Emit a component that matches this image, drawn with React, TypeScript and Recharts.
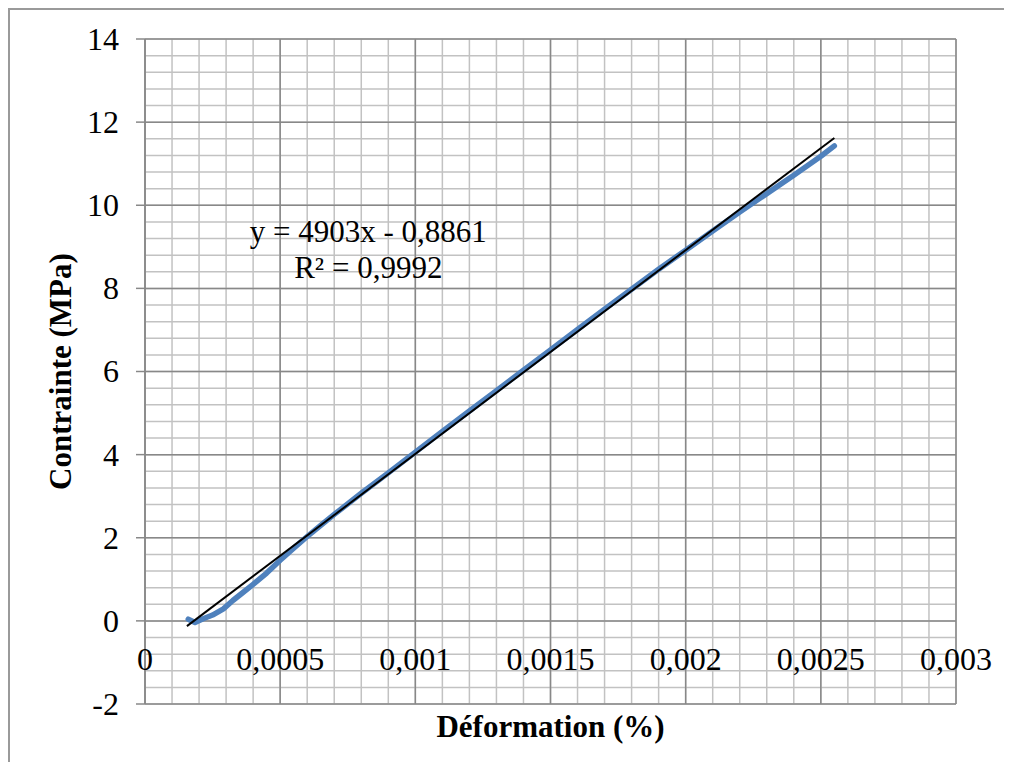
import {
  ComposedChart,
  Line,
  XAxis,
  YAxis,
  CartesianGrid,
  ReferenceDot,
  Label,
} from "recharts";

const FONT = "'Times New Roman', 'Liberation Serif', serif";

// Axis ticks and their printed labels (French decimal comma)
const X_TICKS = [0, 0.0005, 0.001, 0.0015, 0.002, 0.0025, 0.003];
const X_TICK_LABELS = ["0", "0,0005", "0,001", "0,0015", "0,002", "0,0025", "0,003"];
const Y_TICKS = [-2, 0, 2, 4, 6, 8, 10, 12, 14];

// Measured stress-strain curve
const STRAIN = [
  0.00016, 0.000185, 0.000215, 0.00025, 0.00029, 0.000325, 0.00036, 0.0004,
  0.00045, 0.0005, 0.00055, 0.0006, 0.00065, 0.0007, 0.0008, 0.0009, 0.001,
  0.0011, 0.0012, 0.0013, 0.0014, 0.0015, 0.0016, 0.0017, 0.0018, 0.0019,
  0.002, 0.0021, 0.0022, 0.0023, 0.0024, 0.0025, 0.00255,
];
const STRESS = [
  0.04, -0.04, 0.05, 0.14, 0.29, 0.49, 0.67, 0.88,
  1.15, 1.46, 1.75, 2.03, 2.3, 2.56, 3.07, 3.56, 4.06,
  4.56, 5.05, 5.54, 6.03, 6.52, 7.01, 7.5, 7.98, 8.46,
  8.92, 9.38, 9.84, 10.28, 10.72, 11.18, 11.43,
];

// Linear trendline y = 4903x - 0,8861 over the range of the data
const SLOPE = 4903;
const INTERCEPT = -0.8861;
const TREND_X = [0.000155, 0.00255];
const EQUATION_LINES = ["y = 4903x - 0,8861", "R² = 0,9992"];
const EQUATION_AT = { x: 0.000826, y: 9.12 };

// minor grid every 0.0001 / 0.4
const MINOR_X = Array.from({ length: 31 }, (_, i) => i * 0.0001);
const MINOR_Y = Array.from({ length: 41 }, (_, i) => -2 + i * 0.4);

const measured = STRAIN.map((x, i) => ({ x, y: STRESS[i] }));
const trend = TREND_X.map((x) => ({ x, y: SLOPE * x + INTERCEPT }));

function StrainTick({ x, y, payload }: any) {
  const i = X_TICKS.indexOf(payload.value);
  return (
    <text x={x} y={y - 34} textAnchor="middle" fontSize={32} fontFamily={FONT} fill="#000">
      {i >= 0 ? X_TICK_LABELS[i] : payload.value}
    </text>
  );
}

function StressTick({ x, y, payload }: any) {
  return (
    <text x={x} y={y} dy="0.34em" textAnchor="end" fontSize={32} fontFamily={FONT} fill="#000">
      {payload.value}
    </text>
  );
}

function XTitle({ viewBox }: any) {
  return (
    <text
      x={viewBox.x + viewBox.width / 2}
      y={viewBox.y + 33}
      textAnchor="middle"
      fontSize={31}
      fontWeight="bold"
      fontFamily={FONT}
      fill="#000"
    >
      Déformation (%)
    </text>
  );
}

function YTitle({ viewBox }: any) {
  const cx = viewBox.x - 14;
  const cy = viewBox.y + viewBox.height / 2;
  return (
    <text
      x={cx}
      y={cy}
      transform={`rotate(-90 ${cx} ${cy})`}
      textAnchor="middle"
      fontSize={31}
      fontWeight="bold"
      fontFamily={FONT}
      fill="#000"
    >
      Contrainte (MPa)
    </text>
  );
}

function EquationLabel({ viewBox }: any) {
  const cx = viewBox.x + (viewBox.width || 0) / 2;
  const cy = viewBox.y + (viewBox.height || 0) / 2;
  return (
    <text x={cx} y={cy} textAnchor="middle" fontSize={31} fontFamily={FONT} fill="#000">
      {EQUATION_LINES.map((line, i) => (
        <tspan key={i} x={cx} dy={i === 0 ? 0 : 36}>
          {line}
        </tspan>
      ))}
    </text>
  );
}

export default function App() {
  return (
    <div
      style={{
        width: 994,
        height: 752,
        borderTop: "2px solid #9a9a9a",
        borderLeft: "2px solid #9a9a9a",
        background: "#fff",
      }}
    >
      <ComposedChart
        width={994}
        height={750}
        margin={{ top: 29, right: 48, bottom: 6, left: 75 }}
      >
        {/* light minor grid, then the darker major grid on top */}
        <CartesianGrid
          verticalValues={MINOR_X}
          horizontalValues={MINOR_Y}
          stroke="#c2c2c2"
          strokeWidth={1.5}
        />
        <CartesianGrid stroke="#888888" strokeWidth={1.5} />

        <XAxis
          type="number"
          dataKey="x"
          domain={[0, 0.003]}
          ticks={X_TICKS}
          interval={0}
          height={50}
          axisLine={false}
          tickLine={false}
          tickSize={0}
          tickMargin={0}
          tick={<StrainTick />}
        >
          <Label content={<XTitle />} />
        </XAxis>
        <YAxis
          type="number"
          domain={[-2, 14]}
          ticks={Y_TICKS}
          interval={0}
          width={60}
          axisLine={{ stroke: "#888888", strokeWidth: 1.5 }}
          tickLine={{ stroke: "#888888", strokeWidth: 1.5 }}
          tickSize={9}
          tickMargin={17}
          tick={<StressTick />}
        >
          <Label content={<YTitle />} />
        </YAxis>

        <Line
          data={measured}
          dataKey="y"
          stroke="#4f81bd"
          strokeWidth={5.5}
          strokeLinecap="round"
          strokeLinejoin="round"
          dot={false}
          isAnimationActive={false}
        />
        <Line
          data={trend}
          dataKey="y"
          stroke="#000000"
          strokeWidth={2}
          dot={false}
          isAnimationActive={false}
        />
        <ReferenceDot
          x={EQUATION_AT.x}
          y={EQUATION_AT.y}
          r={0}
          fill="none"
          stroke="none"
          label={<EquationLabel />}
        />
      </ComposedChart>
    </div>
  );
}
